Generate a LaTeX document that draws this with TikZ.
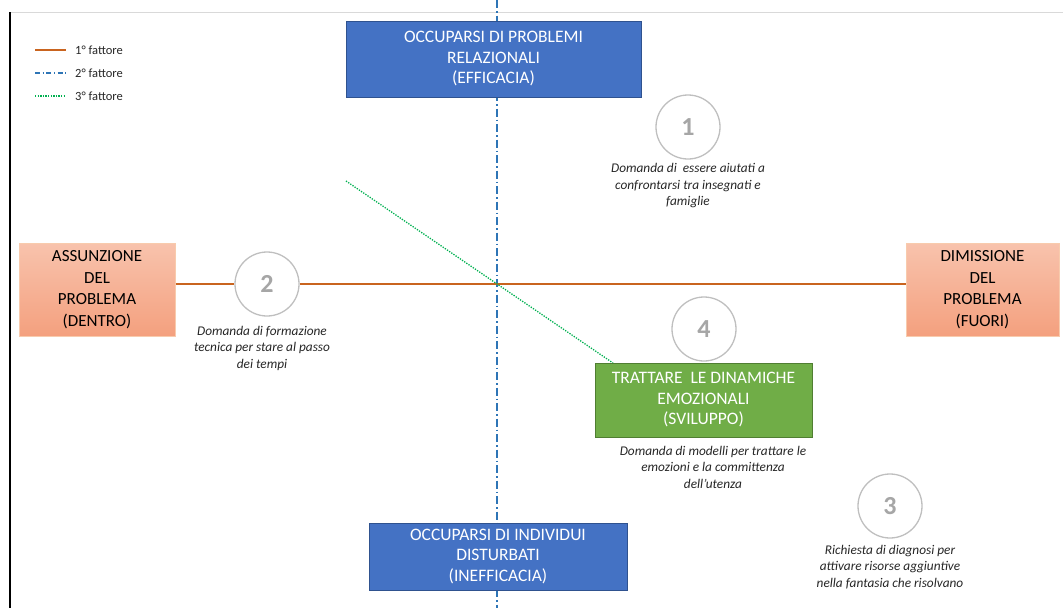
\documentclass[tikz,border=0pt]{standalone}
\usepackage{fontspec}
\setmainfont{Carlito}
\definecolor{boxblue}{HTML}{4472C4}
\definecolor{boxblueline}{HTML}{2F528F}
\definecolor{boxgreen}{HTML}{70AD47}
\definecolor{boxgreenline}{HTML}{507E32}
\definecolor{orangetop}{HTML}{F8C3AD}
\definecolor{orangebot}{HTML}{F4A07E}
\definecolor{orangeline}{HTML}{F8CBAD}
\definecolor{axisorange}{HTML}{C9641F}
\definecolor{axisblue}{HTML}{2E75B6}
\definecolor{axisgreen}{HTML}{00B050}
\definecolor{circgray}{HTML}{BFBFBF}
\definecolor{numgray}{HTML}{A6A6A6}
\definecolor{labeltext}{HTML}{262626}
\tikzset{
  bluebox/.style={draw=boxblueline, line width=0.8pt, fill=boxblue, text=white, align=center,
    font=\fontsize{17.5}{20.5}\selectfont, inner sep=0pt},
  orangebox/.style={draw=orangeline, line width=1pt, top color=orangetop, bottom color=orangebot,
    text=black, align=center, font=\fontsize{17}{21.5}\selectfont, inner sep=0pt},
  greenbox/.style={draw=boxgreenline, line width=0.8pt, fill=boxgreen, text=white, align=center,
    font=\fontsize{17.5}{20.5}\selectfont, inner sep=0pt},
  numcircle/.style={circle, draw=circgray, line width=1.3pt, fill=white, minimum size=64pt,
    inner sep=0pt, text=numgray, font=\fontsize{26}{26}\selectfont\bfseries},
  desc/.style={align=center, text=labeltext, font=\fontsize{13.3}{16.5}\selectfont\itshape, inner sep=0pt},
  legtext/.style={anchor=west, font=\fontsize{12.5}{14}\selectfont, text=labeltext, inner sep=0pt},
  fact1/.style={draw=axisorange, line width=1.6pt},
  fact2/.style={draw=axisblue, line width=1.2pt, dash pattern=on 8pt off 3pt on 1.5pt off 3pt},
  fact3/.style={draw=axisgreen, line width=1.3pt, dash pattern=on 1.3pt off 1.3pt},
}
\begin{document}
\begin{tikzpicture}[x=1pt, y=-1pt]
\useasboundingbox (0,0) rectangle (1063,608);
% frame lines
\coordinate (frTL) at (10,12);
\coordinate (frTR) at (1063,12);
\coordinate (frBL) at (10,608);
\draw[black!15, line width=0.6pt] (frTL) -- (frTR);
\draw[black, line width=1.5pt] (frTL) -- (frBL);

% legend
\coordinate (l1a) at (35,50); \coordinate (l1b) at (66,50);
\coordinate (l2a) at (35,73); \coordinate (l2b) at (66,73);
\coordinate (l3a) at (35,96); \coordinate (l3b) at (66,96);
\draw[fact1] (l1a) -- (l1b);
\draw[fact2, dash pattern=on 5pt off 2.5pt on 1.3pt off 2.5pt] (l2a) -- (l2b);
\draw[fact3] (l3a) -- (l3b);
\node[legtext] (lt1) at (75,50) {1° fattore};
\node[legtext] (lt2) at (75,73) {2° fattore};
\node[legtext] (lt3) at (75,96) {3° fattore};

% axes
\coordinate (axtop) at (497,0);
\coordinate (axbot) at (497,608);
\draw[fact2] (axtop) -- (axbot);
\coordinate (gstart) at (346,181);
\coordinate (gend) at (613,363);

% boxes
\node[bluebox, minimum width=295pt, minimum height=76pt] (top) at (493.5,59)
  {OCCUPARSI DI PROBLEMI\\RELAZIONALI\\(EFFICACIA)};
\node[bluebox, minimum width=258pt, minimum height=67pt] (bot) at (498,556.5)
  {OCCUPARSI DI INDIVIDUI\\DISTURBATI\\(INEFFICACIA)};
\node[orangebox, minimum width=156pt, minimum height=93pt] (left) at (97,289.5)
  {ASSUNZIONE\\DEL\\PROBLEMA\\(DENTRO)};
\node[orangebox, minimum width=153pt, minimum height=93pt] (right) at (982.5,289.5)
  {DIMISSIONE\\DEL\\PROBLEMA\\(FUORI)};

% circles
\node[numcircle] (c1) at (688,127) {1};
\node[numcircle] (c2) at (267,284) {2};
\node[numcircle] (c4) at (704,329) {4};
\node[numcircle] (c3) at (890,506) {3};

% 1st factor
\draw[fact1] (left.east |- c2.center) -- (c2.west);
\draw[fact1] (c2.east) -- (right.west |- c2.center);
% 3rd factor
\draw[fact3] (gstart) -- (gend);

\node[greenbox, minimum width=217pt, minimum height=74pt] (green) at (703.5,400)
  {TRATTARE\ \ LE DINAMICHE\\EMOZIONALI\\(SVILUPPO)};

% descriptions
\node[desc] (d1) at (688,186) {Domanda di\ \ essere aiutati a\\confrontarsi tra insegnati e\\famiglie};
\node[desc] (d2) at (262,348) {Domanda di formazione\\tecnica per stare al passo\\dei tempi};
\node[desc] (d4) at (713,467) {Domanda di modelli per trattare le\\emozioni e la committenza\\dell’utenza};
\node[desc] (d3) at (890,567) {Richiesta di diagnosi per\\attivare risorse aggiuntive\\nella fantasia che risolvano};
\end{tikzpicture}
\end{document}
